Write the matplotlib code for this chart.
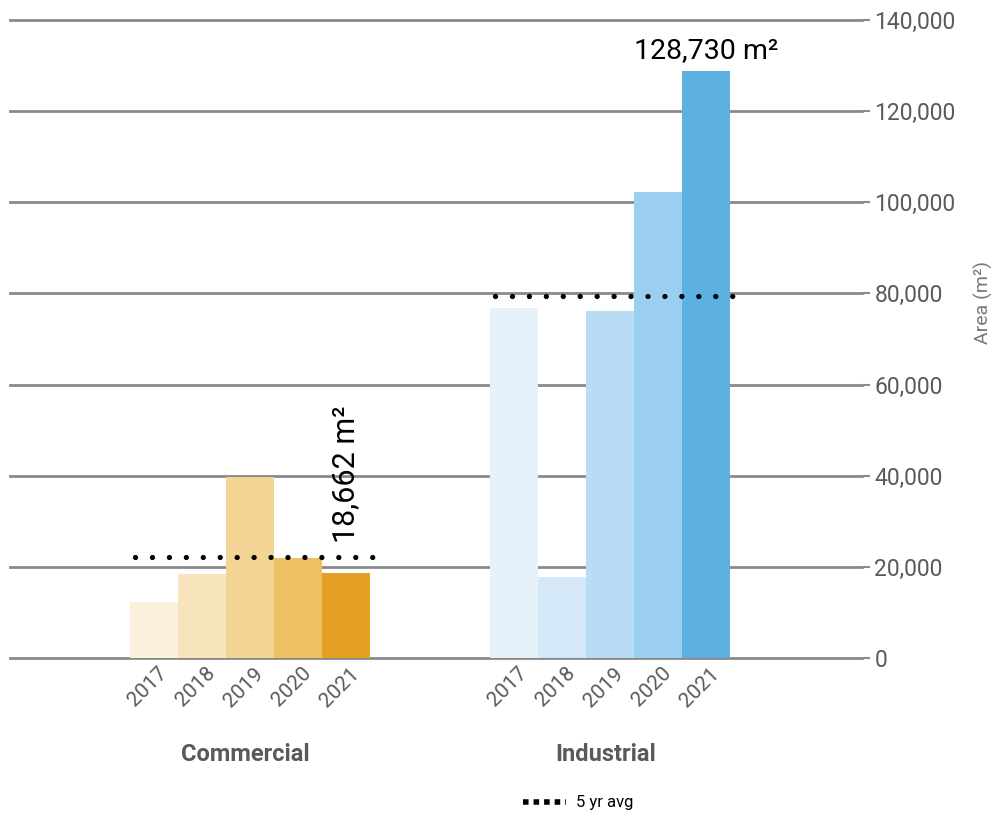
import numpy as np
import matplotlib
matplotlib.use('Agg')
from matplotlib import pyplot as plt
from matplotlib.lines import Line2D
from matplotlib import transforms

years = ['2017', '2018', '2019', '2020', '2021']
groups = ['Commercial', 'Industrial']
commercial = [12300, 18500, 39700, 21900, 18662]
industrial = [76800, 17800, 76100, 102300, 128730]
avg_5yr = [22200, 79500]
y_ticks = [0, 20000, 40000, 60000, 80000, 100000, 120000, 140000]

comm_colors = ['#FBF0DC', '#F7E3BC', '#F3D494', '#EDC063', '#E5A125']
ind_colors = ['#E6F2FA', '#D4E8F7', '#B7DCF3', '#9BCFF0', '#5DB1E1']

plt.rcParams['font.family'] = ['Roboto', 'DejaVu Sans']
gray = '#5a5a5a'

fig = plt.figure(figsize=(9.94, 8.16), dpi=100)
W, H = 994, 816
ax = fig.add_axes([10 / W, (H - 658) / H, (862 - 10) / W, (658 - 20) / H])

# bar centres for each group
c_pos = 3.0 + np.arange(len(years))
i_pos = 10.5 + np.arange(len(years))

ax.bar(c_pos, commercial, width=1.0, color=comm_colors, zorder=2)
ax.bar(i_pos, industrial, width=1.0, color=ind_colors, zorder=2)

# 5 year averages
for pos, a in zip([c_pos, i_pos], avg_5yr):
    ax.plot([pos[0] - 0.4, pos[-1] + 0.65], [a, a], color='black', lw=3.8,
            ls=(0, (0.01, 3.2)), dash_capstyle='round', zorder=3)

ax.set_xlim(0, 17.75)
ax.set_ylim(0, 140000)
ax.set_yticks(y_ticks)
ax.set_yticklabels([f'{v:,}' for v in y_ticks])
ax.yaxis.tick_right()
ax.tick_params(axis='y', length=6, width=1.5, color='#8a8a8a', labelsize=16.5,
               labelcolor=gray, pad=3)
ax.grid(axis='y', color='#8a8a8a', lw=2, zorder=0)
for gl in ax.get_ygridlines():
    gl.set_clip_on(False)
for s in ax.spines.values():
    s.set_visible(False)

ax.set_xticks(np.concatenate([c_pos, i_pos]))
ax.set_xticklabels(years + years, rotation=45, ha='right', va='center',
                   rotation_mode='anchor', fontsize=15, color=gray)
ax.tick_params(axis='x', length=0, pad=9)
shift = transforms.ScaledTranslation(10 / 100, 0, fig.dpi_scale_trans)
for lbl in ax.get_xticklabels():
    lbl.set_transform(lbl.get_transform() + shift)

trans = transforms.blended_transform_factory(ax.transData, ax.transAxes)
for pos, g in zip([c_pos, i_pos], groups):
    ax.text(pos.mean() - 0.1, -0.152, g, transform=trans, ha='center', va='center',
            fontsize=17, fontweight='bold', color=gray)

# value labels
ax.text(i_pos[-1], industrial[-1] + 1600, f'{industrial[-1]:,} m²',
        ha='center', va='bottom', fontsize=20.5, color='black')
ax.text(c_pos[-1], commercial[-1] + 6500, f'{commercial[-1]:,} m²',
        ha='center', va='bottom', rotation=90, fontsize=22, color='black')

fig.text(983 / W, 1 - 302 / H, 'Area (m²)', rotation=90, ha='center', va='center',
         fontsize=14, color='#777777')

h = Line2D([], [], color='black', lw=4, ls=(0, (1, 0.9)))
fig.legend(handles=[h], labels=['5 yr avg'], loc='center',
           bbox_to_anchor=(578 / W, 1 - 803 / H), frameon=False,
           handlelength=2.6, handletextpad=0.6, prop={'size': 12})

fig.savefig('out.png', dpi=100)
